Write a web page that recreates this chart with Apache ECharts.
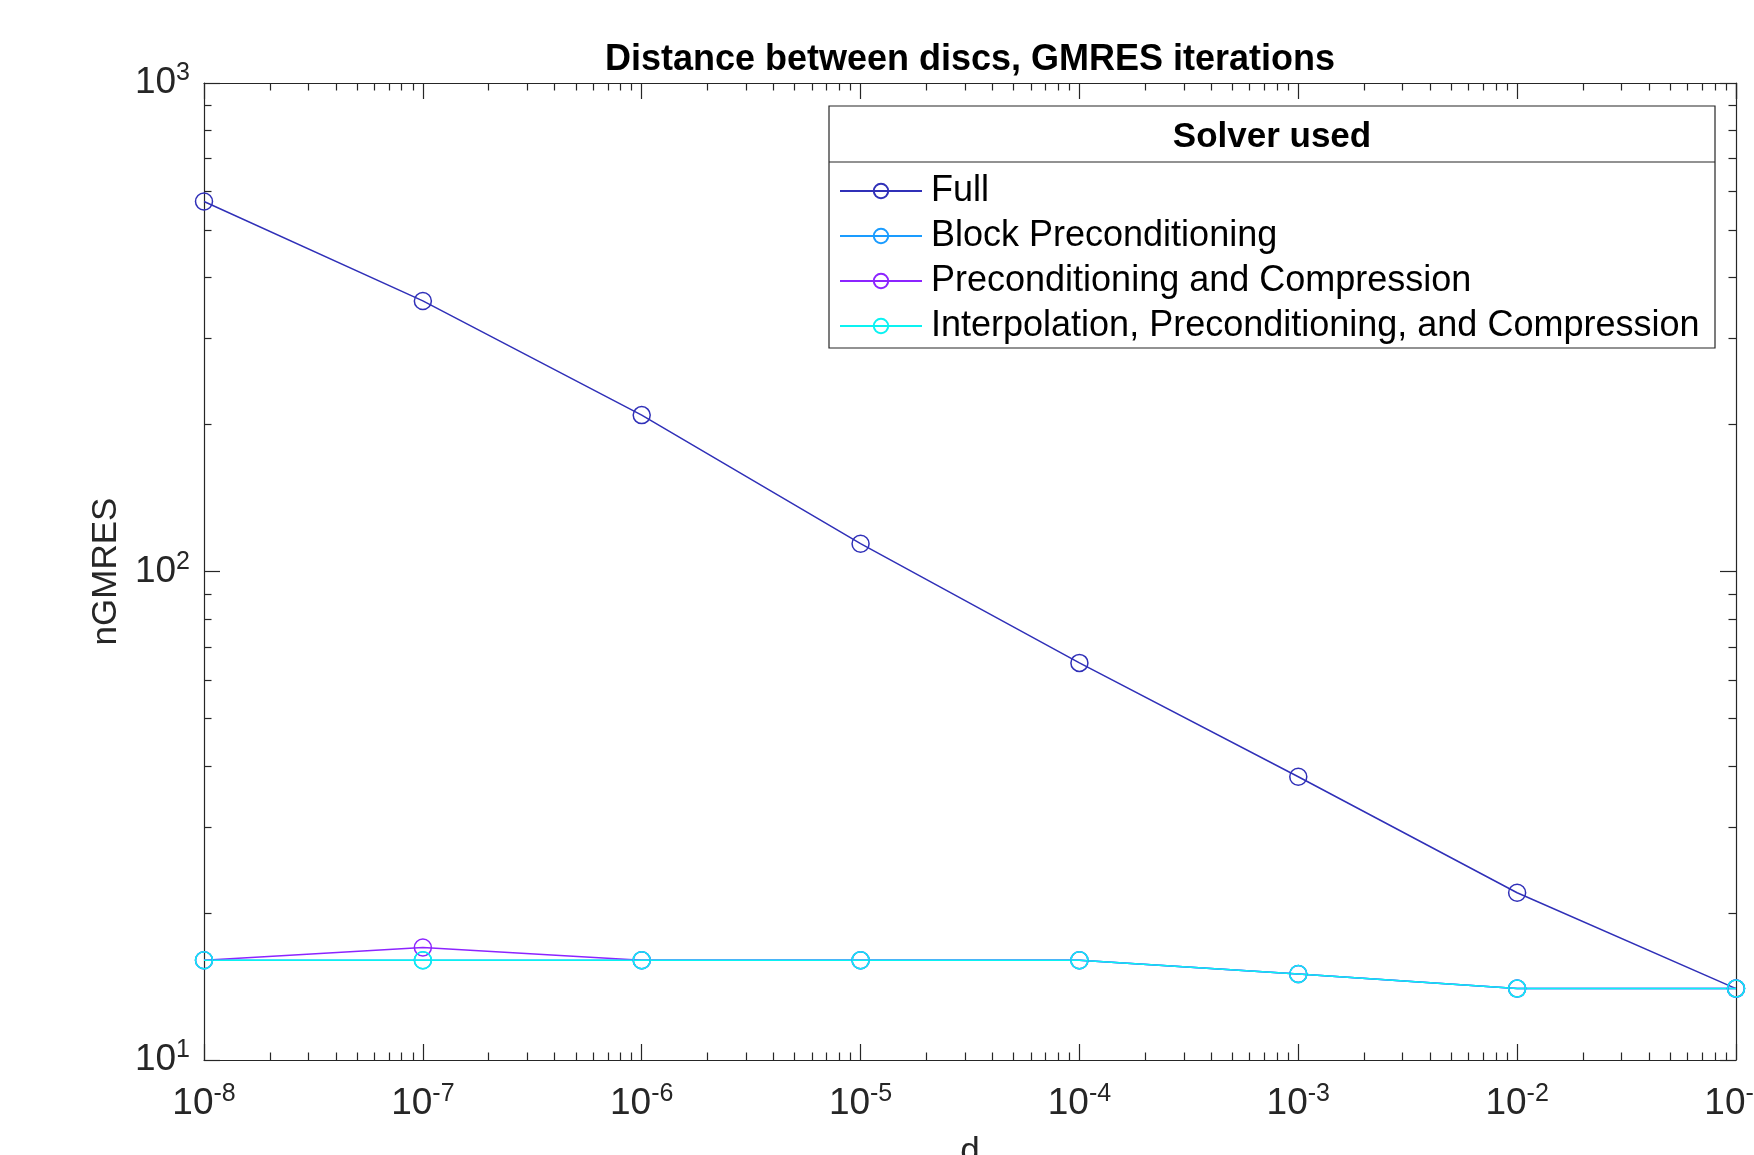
<!DOCTYPE html>
<html>
<head>
<meta charset="utf-8">
<script src="https://cdn.jsdelivr.net/npm/echarts@6/dist/echarts.min.js"></script>
<style>
html, body { margin: 0; padding: 0; background: #fff; }
#chart { width: 1754px; height: 1155px; }
</style>
</head>
<body>
<div id="chart"></div>
<script>
// distance d between the discs
const distances = [1e-8, 1e-7, 1e-6, 1e-5, 1e-4, 1e-3, 1e-2, 1e-1];
const seriesNames = ['Full', 'Block Preconditioning', 'Preconditioning and Compression', 'Interpolation, Preconditioning, and Compression'];
// GMRES iteration counts
const fullIters = [572, 358, 209, 114, 65, 38, 22, 14];
const blockIters = [16, 16, 16, 16, 16, 15, 14, 14];
const precCompIters = [16, 17, 16, 16, 16, 15, 14, 14];
const interpIters = [16, 16, 16, 16, 16, 15, 14, 14];
const seriesColors = ['#3030b8', '#1a9cff', '#8c24ff', '#0af2f2'];

const axisColor = '#262626';
const font = 'Liberation Sans, Arial, Helvetica, sans-serif';

// minor log ticks (2..9 in every decade), as log10 positions
const minorX = [];
for (let k = -8; k < -1; k++) for (let m = 2; m <= 9; m++) minorX.push(k + Math.log10(m));
const minorY = [];
for (let k = 1; k < 3; k++) for (let m = 2; m <= 9; m++) minorY.push(k + Math.log10(m));

const myChart = echarts.init(document.getElementById('chart'));

function powLabel(v) {
  return '{b|10}{s|' + Math.round(Math.log10(v)) + '}';
}
const labelRich = {
  b: { fontSize: 37, fontFamily: font, color: axisColor, lineHeight: 44 },
  s: { fontSize: 25, fontFamily: font, color: axisColor, lineHeight: 16, verticalAlign: 'top' }
};

function majorAxis(extra) {
  return Object.assign({
    type: 'log',
    logBase: 10,
    interval: 1,
    axisLine: { show: true, lineStyle: { color: axisColor, width: 1.2 } },
    axisTick: { show: true, inside: true, length: 16, lineStyle: { color: axisColor, width: 1.2 } },
    splitLine: { show: false },
    minorTick: { show: false }
  }, extra);
}
function minorAxis(extra, vals) {
  return Object.assign({
    type: 'value',
    axisLine: { show: false },
    axisLabel: { show: false },
    axisTick: { show: true, inside: true, length: 7.5, customValues: vals, lineStyle: { color: axisColor, width: 1.2 } },
    splitLine: { show: false }
  }, extra);
}

function makeSeries(name, vals, color) {
  return {
    name: name,
    type: 'line',
    xAxisIndex: 0,
    yAxisIndex: 0,
    data: distances.map((d, i) => [d, vals[i]]),
    symbol: 'circle',
    symbolSize: 17,
    showAllSymbol: true,
    lineStyle: { color: color, width: 1.5 },
    itemStyle: { color: 'rgba(0,0,0,0)', borderColor: color, borderWidth: 1.5 },
    emphasis: { disabled: true },
    animation: false
  };
}

myChart.setOption({
  animation: false,
  grid: { left: 204, right: 18, top: 83, bottom: 95, outerBoundsMode: 'none', containLabel: false },
  xAxis: [
    majorAxis({
      position: 'bottom', min: 1e-8, max: 1e-1,
      name: 'd', nameLocation: 'middle', nameGap: 75,
      nameTextStyle: { fontSize: 35, fontFamily: font, color: axisColor },
      axisLabel: { margin: 22, formatter: powLabel, rich: labelRich, showMinLabel: true, showMaxLabel: true }
    }),
    majorAxis({ position: 'top', min: 1e-8, max: 1e-1, axisLabel: { show: false } }),
    minorAxis({ position: 'bottom', min: -8, max: -1 }, minorX),
    minorAxis({ position: 'top', min: -8, max: -1 }, minorX)
  ],
  yAxis: [
    majorAxis({
      position: 'left', min: 10, max: 1000,
      name: 'nGMRES', nameLocation: 'middle', nameGap: 76, nameRotate: 90,
      nameTextStyle: { fontSize: 35, fontFamily: font, color: axisColor },
      axisLabel: { margin: 14, formatter: powLabel, rich: labelRich, showMinLabel: true, showMaxLabel: true }
    }),
    majorAxis({ position: 'right', min: 10, max: 1000, axisLabel: { show: false } }),
    minorAxis({ position: 'left', min: 1, max: 3 }, minorY),
    minorAxis({ position: 'right', min: 1, max: 3 }, minorY)
  ],
  legend: {
    orient: 'vertical',
    left: 834,
    top: 168,
    itemWidth: 82,
    itemHeight: 18,
    itemGap: 9,
    selectedMode: false,
    data: seriesNames,
    textStyle: { fontSize: 36, fontFamily: font, color: '#000', lineHeight: 36, padding: [0, 0, 0, 4] }
  },
  graphic: [
    {
      type: 'text', x: 970, y: 60,
      style: { text: 'Distance between discs, GMRES iterations', font: 'bold 36px ' + font, fill: '#000',
        textAlign: 'center', textVerticalAlign: 'middle', align: 'center', verticalAlign: 'middle' }
    },
    {
      type: 'rect', shape: { x: 829, y: 106, width: 886, height: 242 },
      style: { fill: '#fff', stroke: axisColor, lineWidth: 1.2 }, z: 1
    },
    {
      type: 'line', shape: { x1: 829, y1: 162, x2: 1715, y2: 162 },
      style: { stroke: axisColor, lineWidth: 1.2 }, z: 1
    },
    {
      type: 'text', x: 1272, y: 137, z: 1,
      style: { text: 'Solver used', font: 'bold 35px ' + font, fill: '#000',
        textAlign: 'center', textVerticalAlign: 'middle', align: 'center', verticalAlign: 'middle' }
    }
  ],
  series: [
    makeSeries(seriesNames[0], fullIters, seriesColors[0]),
    makeSeries(seriesNames[1], blockIters, seriesColors[1]),
    makeSeries(seriesNames[2], precCompIters, seriesColors[2]),
    makeSeries(seriesNames[3], interpIters, seriesColors[3])
  ]
});

window.addEventListener('resize', () => {
  if (myChart) myChart.resize();
});
</script>
</body>
</html>
